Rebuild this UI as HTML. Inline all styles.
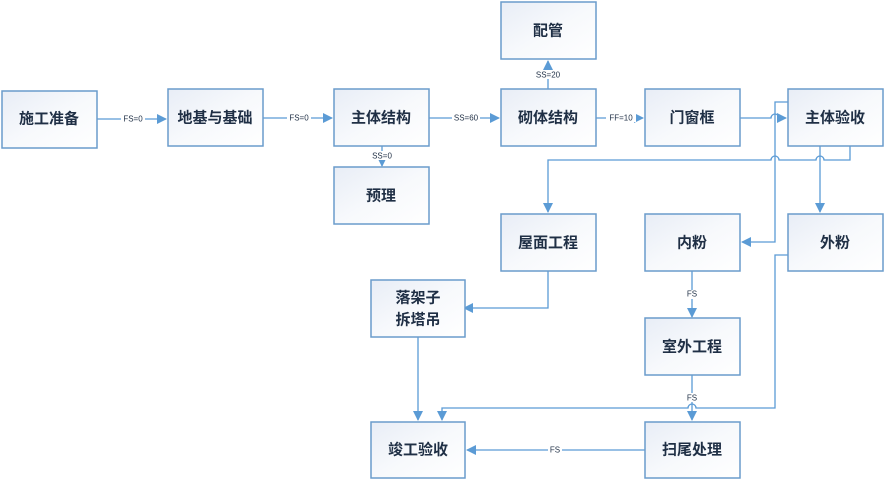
<!DOCTYPE html>
<html><head><meta charset="utf-8"><style>
html,body{margin:0;padding:0;background:#fff;}
svg{display:block;}
text{font-family:"Liberation Sans","Noto Sans CJK SC",sans-serif;}
.b{fill:url(#g);stroke:#6a9ccc;stroke-width:1.5;}
.t{font-size:15px;font-weight:bold;fill:#1f2f45;text-anchor:middle;dominant-baseline:central;}
.l{fill:none;stroke:#5b9bd5;stroke-width:1.3;}
.s{font-size:8px;fill:#1f2f45;text-anchor:middle;dominant-baseline:central;}
.lb{fill:#fff;}
</style></head><body>
<svg width="885" height="481" viewBox="0 0 885 481" xmlns="http://www.w3.org/2000/svg">
<defs>
<linearGradient id="g" x1="0" y1="0" x2="1" y2="1"><stop offset="0" stop-color="#e8edf6"/><stop offset="0.5" stop-color="#f7f9fc"/><stop offset="1" stop-color="#ffffff"/></linearGradient>
<marker id="a" markerWidth="10" markerHeight="10" refX="9" refY="5" orient="auto" markerUnits="userSpaceOnUse"><path d="M0,0 L10,5 L0,10 z" fill="#5b9bd5"/></marker>
</defs>
<!-- connectors -->
<path class="l" d="M97,119 H166" marker-end="url(#a)"/>
<path class="l" d="M263,118 H332" marker-end="url(#a)"/>
<path class="l" d="M429,118 H499" marker-end="url(#a)"/>
<path class="l" d="M382,146 V166" marker-end="url(#a)"/>
<path class="l" d="M548,89 V61" marker-end="url(#a)"/>
<path class="l" d="M596,118 H643" marker-end="url(#a)"/>
<path class="l" d="M740,118 H771 a4,4 0 0 1 8,0 H786" marker-end="url(#a)"/>
<path class="l" d="M788,102 H775 V242 H742" marker-end="url(#a)"/>
<path class="l" d="M850,146 V160 H824 a4,4 0 0 0 -8,0 H779 a4,4 0 0 0 -8,0 H548 V212" marker-end="url(#a)"/>
<path class="l" d="M820,146 V212" marker-end="url(#a)"/>
<path class="l" d="M788,255 H775 V408 H696 a4,4 0 0 0 -8,0 H442 V420" marker-end="url(#a)"/>
<path class="l" d="M548,271 V308 H464" marker-end="url(#a)"/>
<path class="l" d="M418,337 V420" marker-end="url(#a)"/>
<path class="l" d="M692,271 V317" marker-end="url(#a)"/>
<path class="l" d="M692,375 V420" marker-end="url(#a)"/>
<path class="l" d="M645,450 H467" marker-end="url(#a)"/>
<!-- labels -->
<rect class="lb" x="121" y="114" width="24" height="9"/><text class="s" x="133" y="119">FS=0</text>
<rect class="lb" x="287" y="113" width="24" height="9"/><text class="s" x="299" y="118">FS=0</text>
<rect class="lb" x="452" y="113" width="28" height="9"/><text class="s" x="466" y="118">SS=60</text>
<rect class="lb" x="370" y="151" width="24" height="9"/><text class="s" x="382" y="156">SS=0</text>
<rect class="lb" x="534" y="70" width="28" height="9"/><text class="s" x="548" y="75">SS=20</text>
<rect class="lb" x="606" y="113" width="30" height="9"/><text class="s" x="621" y="118">FF=10</text>
<rect class="lb" x="685" y="290" width="14" height="9"/><text class="s" x="692" y="294">FS</text>
<rect class="lb" x="685" y="393" width="14" height="9"/><text class="s" x="692" y="398">FS</text>
<rect class="lb" x="548" y="445" width="14" height="9"/><text class="s" x="555" y="450">FS</text>
<!-- boxes -->
<rect class="b" x="2" y="91" width="95" height="57"/><text class="t" x="49" y="119">施工准备</text>
<rect class="b" x="168" y="89" width="95" height="57"/><text class="t" x="215" y="118">地基与基础</text>
<rect class="b" x="334" y="89" width="95" height="57"/><text class="t" x="381" y="118">主体结构</text>
<rect class="b" x="334" y="167" width="95" height="57"/><text class="t" x="381" y="196">预理</text>
<rect class="b" x="501" y="2" width="95" height="57"/><text class="t" x="548" y="31">配管</text>
<rect class="b" x="501" y="89" width="95" height="57"/><text class="t" x="548" y="118">砌体结构</text>
<rect class="b" x="645" y="89" width="95" height="57"/><text class="t" x="692" y="118">门窗框</text>
<rect class="b" x="788" y="89" width="95" height="57"/><text class="t" x="835" y="118">主体验收</text>
<rect class="b" x="501" y="214" width="95" height="57"/><text class="t" x="548" y="243">屋面工程</text>
<rect class="b" x="645" y="214" width="95" height="57"/><text class="t" x="692" y="243">内粉</text>
<rect class="b" x="788" y="214" width="95" height="57"/><text class="t" x="835" y="243">外粉</text>
<rect class="b" x="371" y="280" width="94" height="57"/><text class="t" x="418" y="298">落架子</text><text class="t" x="418" y="320">拆塔吊</text>
<rect class="b" x="645" y="318" width="95" height="57"/><text class="t" x="692" y="347">室外工程</text>
<rect class="b" x="371" y="422" width="94" height="56"/><text class="t" x="418" y="450">竣工验收</text>
<rect class="b" x="645" y="422" width="95" height="56"/><text class="t" x="692" y="450">扫尾处理</text>
</svg>
</body></html>
